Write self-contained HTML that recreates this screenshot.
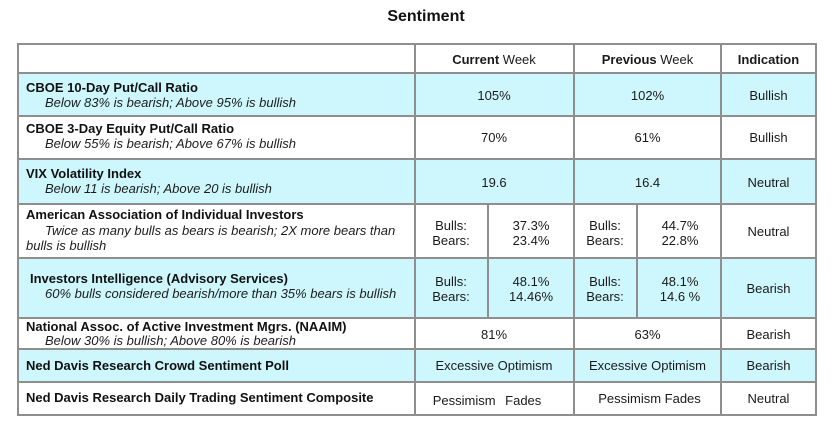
<!DOCTYPE html>
<html>
<head>
<meta charset="utf-8">
<style>
  html,body{margin:0;padding:0;background:#fff;}
  #c{position:relative;width:839px;height:429px;overflow:hidden;background:#fff;
     font-family:"Liberation Sans",Arial,sans-serif;color:#111;}
  .h{position:absolute;height:2px;background:#8e8e8e;}
  .v{position:absolute;width:2px;background:#8e8e8e;}
  .f{position:absolute;background:#cdf7fd;}
  .t{position:absolute;font-size:13px;line-height:15px;white-space:nowrap;}
  .b{font-weight:bold;}
  .i{font-style:italic;color:#1c1c1c;}
  .c{text-align:center;color:#1a1a1a;}
</style>
</head>
<body>
<div id="c">
  <!-- fills -->
  <div class="f" style="left:18px;top:73px;width:798px;height:43px;"></div>
  <div class="f" style="left:18px;top:159px;width:798px;height:45px;"></div>
  <div class="f" style="left:18px;top:258px;width:798px;height:60px;"></div>
  <div class="f" style="left:18px;top:349px;width:798px;height:33px;"></div>

  <!-- horizontal lines -->
  <div class="h" style="left:17px;top:43px;width:800px;"></div>
  <div class="h" style="left:17px;top:72px;width:800px;"></div>
  <div class="h" style="left:17px;top:115px;width:800px;"></div>
  <div class="h" style="left:17px;top:158px;width:800px;"></div>
  <div class="h" style="left:17px;top:203px;width:800px;"></div>
  <div class="h" style="left:17px;top:257px;width:800px;"></div>
  <div class="h" style="left:17px;top:317px;width:800px;"></div>
  <div class="h" style="left:17px;top:348px;width:800px;"></div>
  <div class="h" style="left:17px;top:381px;width:800px;"></div>
  <div class="h" style="left:17px;top:414px;width:800px;"></div>

  <!-- vertical lines -->
  <div class="v" style="left:17px;top:43px;height:373px;"></div>
  <div class="v" style="left:414px;top:43px;height:373px;"></div>
  <div class="v" style="left:573px;top:43px;height:373px;"></div>
  <div class="v" style="left:720px;top:43px;height:373px;"></div>
  <div class="v" style="left:815px;top:43px;height:373px;"></div>
  <div class="v" style="left:487px;top:203px;height:116px;"></div>
  <div class="v" style="left:636px;top:203px;height:116px;"></div>

  <!-- title -->
  <div class="t b" style="left:326px;top:8px;width:200px;text-align:center;font-size:16px;line-height:18px;">Sentiment</div>

  <!-- header -->
  <div class="t c" style="left:414px;top:52px;width:160px;"><b>Current</b> Week</div>
  <div class="t c" style="left:573px;top:52px;width:149px;"><b>Previous</b> Week</div>
  <div class="t c b" style="left:720px;top:52px;width:97px;">Indication</div>

  <!-- row 1 -->
  <div class="t b" style="left:26px;top:80px;">CBOE 10-Day Put/Call Ratio</div>
  <div class="t i" style="left:45px;top:95px;">Below 83% is bearish; Above 95% is bullish</div>
  <div class="t c" style="left:414px;top:88px;width:160px;">105%</div>
  <div class="t c" style="left:573px;top:88px;width:149px;">102%</div>
  <div class="t c" style="left:720px;top:88px;width:97px;">Bullish</div>

  <!-- row 2 -->
  <div class="t b" style="left:26px;top:121px;">CBOE 3-Day Equity Put/Call Ratio</div>
  <div class="t i" style="left:45px;top:136px;">Below 55% is bearish; Above 67% is bullish</div>
  <div class="t c" style="left:414px;top:130px;width:160px;">70%</div>
  <div class="t c" style="left:573px;top:130px;width:149px;">61%</div>
  <div class="t c" style="left:720px;top:130px;width:97px;">Bullish</div>

  <!-- row 3 -->
  <div class="t b" style="left:26px;top:166px;">VIX Volatility Index</div>
  <div class="t i" style="left:45px;top:181px;">Below 11 is bearish; Above 20 is bullish</div>
  <div class="t c" style="left:414px;top:175px;width:160px;">19.6</div>
  <div class="t c" style="left:573px;top:175px;width:149px;">16.4</div>
  <div class="t c" style="left:720px;top:175px;width:97px;">Neutral</div>

  <!-- row 4 -->
  <div class="t b" style="left:26px;top:207px;">American Association of Individual Investors</div>
  <div class="t i" style="left:45px;top:223px;">Twice as many bulls as bears is bearish; 2X more bears than</div>
  <div class="t i" style="left:26px;top:238px;">bulls is bullish</div>
  <div class="t c" style="left:414px;top:218px;width:74px;">Bulls:<br>Bears:</div>
  <div class="t c" style="left:488px;top:218px;width:86px;">37.3%<br>23.4%</div>
  <div class="t c" style="left:573px;top:218px;width:64px;">Bulls:<br>Bears:</div>
  <div class="t c" style="left:638px;top:218px;width:84px;">44.7%<br>22.8%</div>
  <div class="t c" style="left:720px;top:224px;width:97px;">Neutral</div>

  <!-- row 5 -->
  <div class="t b" style="left:30px;top:271px;">Investors Intelligence (Advisory Services)</div>
  <div class="t i" style="left:45px;top:286px;">60% bulls considered bearish/more than 35% bears is bullish</div>
  <div class="t c" style="left:414px;top:274px;width:74px;">Bulls:<br>Bears:</div>
  <div class="t c" style="left:488px;top:274px;width:86px;">48.1%<br>14.46%</div>
  <div class="t c" style="left:573px;top:274px;width:64px;">Bulls:<br>Bears:</div>
  <div class="t c" style="left:638px;top:274px;width:84px;">48.1%<br>14.6 %</div>
  <div class="t c" style="left:720px;top:281px;width:97px;">Bearish</div>

  <!-- row 6 -->
  <div class="t b" style="left:26px;top:319px;">National Assoc. of Active Investment Mgrs. (NAAIM)</div>
  <div class="t i" style="left:45px;top:333px;">Below 30% is bullish; Above 80% is bearish</div>
  <div class="t c" style="left:414px;top:327px;width:160px;">81%</div>
  <div class="t c" style="left:573px;top:327px;width:149px;">63%</div>
  <div class="t c" style="left:720px;top:327px;width:97px;">Bearish</div>

  <!-- row 7 -->
  <div class="t b" style="left:26px;top:358px;">Ned Davis Research Crowd Sentiment Poll</div>
  <div class="t c" style="left:414px;top:358px;width:160px;">Excessive Optimism</div>
  <div class="t c" style="left:573px;top:358px;width:149px;">Excessive Optimism</div>
  <div class="t c" style="left:720px;top:358px;width:97px;">Bearish</div>

  <!-- row 8 -->
  <div class="t b" style="left:26px;top:390px;">Ned Davis Research Daily Trading Sentiment Composite</div>
  <div class="t c" style="left:414px;top:393px;width:146px;word-spacing:6px;">Pessimism Fades</div>
  <div class="t c" style="left:575px;top:391px;width:149px;">Pessimism Fades</div>
  <div class="t c" style="left:720px;top:391px;width:97px;">Neutral</div>
</div>
</body>
</html>
